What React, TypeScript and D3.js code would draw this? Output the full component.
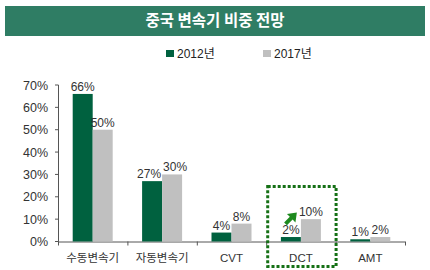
import * as d3 from 'd3';

const categories = ['수동변속기', '자동변속기', 'CVT', 'DCT', 'AMT'];
const series2012 = [66, 27, 4, 2, 1];
const series2017 = [50, 30, 8, 10, 2];
const seriesNames = ['2012년', '2017년'];
const yTicks = [0, 10, 20, 30, 40, 50, 60, 70];

const W = 430;
const H = 270;
const font = 'Liberation Sans, Arial, "Noto Sans CJK KR", sans-serif';
const darkGreen = '#00613f';
const grey = '#c0c0c0';

export default function App() {
  const x = d3.scaleBand<string>().domain(categories).range([58, 405]);
  const y = d3.scaleLinear().domain([0, 70]).range([241.5, 85]);
  const barW = 20;

  const dct = x('DCT')!;

  return (
    <svg width={W} height={H} style={{ position: 'absolute', left: 0, top: 0, background: '#fff' }}>
      {/* title banner */}
      <rect x={5} y={6} width={420} height={30} fill="#2f7d64" />
      <text x={W / 2} y={26} textAnchor="middle" fill="#fff" fontSize={15.5} fontWeight="bold"
        fontFamily='"Noto Sans CJK KR", sans-serif'>중국 변속기 비중 전망</text>

      {/* legend */}
      {seriesNames.map((s, i) => (
        <g key={s} transform={`translate(${166 + i * 97},50)`}>
          <rect width={8} height={7} fill={i === 0 ? darkGreen : grey} />
          <text x={11} y={7.5} fontSize={12} fill="#222" fontFamily={font}>{s}</text>
        </g>
      ))}

      {/* y axis */}
      <line x1={58.5} x2={58.5} y1={85} y2={y(0)} stroke="#555" />
      {yTicks.map(t => (
        <g key={t}>
          <line x1={55} x2={58.5} y1={y(t)} y2={y(t)} stroke="#555" />
          <text x={48} y={y(t) + 4.5} textAnchor="end" fontSize={12.5} fill="#333" fontFamily={font}>{t}%</text>
        </g>
      ))}

      {/* x axis */}
      <line x1={58} x2={405} y1={y(0) + 0.5} y2={y(0) + 0.5} stroke="#555" />
      {categories.map(c => (
        <line key={c} x1={x(c)! + 0.5} x2={x(c)! + 0.5} y1={y(0)} y2={y(0) + 4} stroke="#555" />
      ))}
      <line x1={405.5} x2={405.5} y1={y(0)} y2={y(0) + 4} stroke="#555" />

      {/* bars */}
      {categories.map((c, i) => {
        const cx = x(c)! + x.bandwidth() / 2;
        const nudge = i === 1 ? 3 : 0; // labels sit close together here
        return (
          <g key={c}>
            <rect x={cx - barW} y={y(series2012[i])} width={barW} height={y(0) - y(series2012[i])} fill={darkGreen} />
            <rect x={cx} y={y(series2017[i])} width={barW} height={y(0) - y(series2017[i])} fill={grey} />
            <text x={cx - barW / 2 - nudge} y={y(series2012[i]) - 3} textAnchor="middle" fontSize={12} fill="#333" fontFamily={font}>{series2012[i]}%</text>
            <text x={cx + barW / 2 + nudge} y={y(series2017[i]) - 3} textAnchor="middle" fontSize={12} fill="#333" fontFamily={font}>{series2017[i]}%</text>
            <text x={cx} y={262} textAnchor="middle" fontSize={11.5} fill="#333" fontFamily={font}>{c}</text>
          </g>
        );
      })}

      {/* highlight box around DCT */}
      <rect x={dct + 1.5} y={186.5} width={x.bandwidth() - 1} height={80} fill="none"
        stroke="#157015" strokeWidth={3} strokeDasharray="3,2" />
      {/* arrow */}
      <g transform={`translate(${dct + 25},${y(10) - 1}) rotate(45)`}>
        <path d="M0,-8 L6,0 L2,0 L2,8 L-2,8 L-2,0 L-6,0 Z" fill="#1e8a1e" />
      </g>
    </svg>
  );
}
